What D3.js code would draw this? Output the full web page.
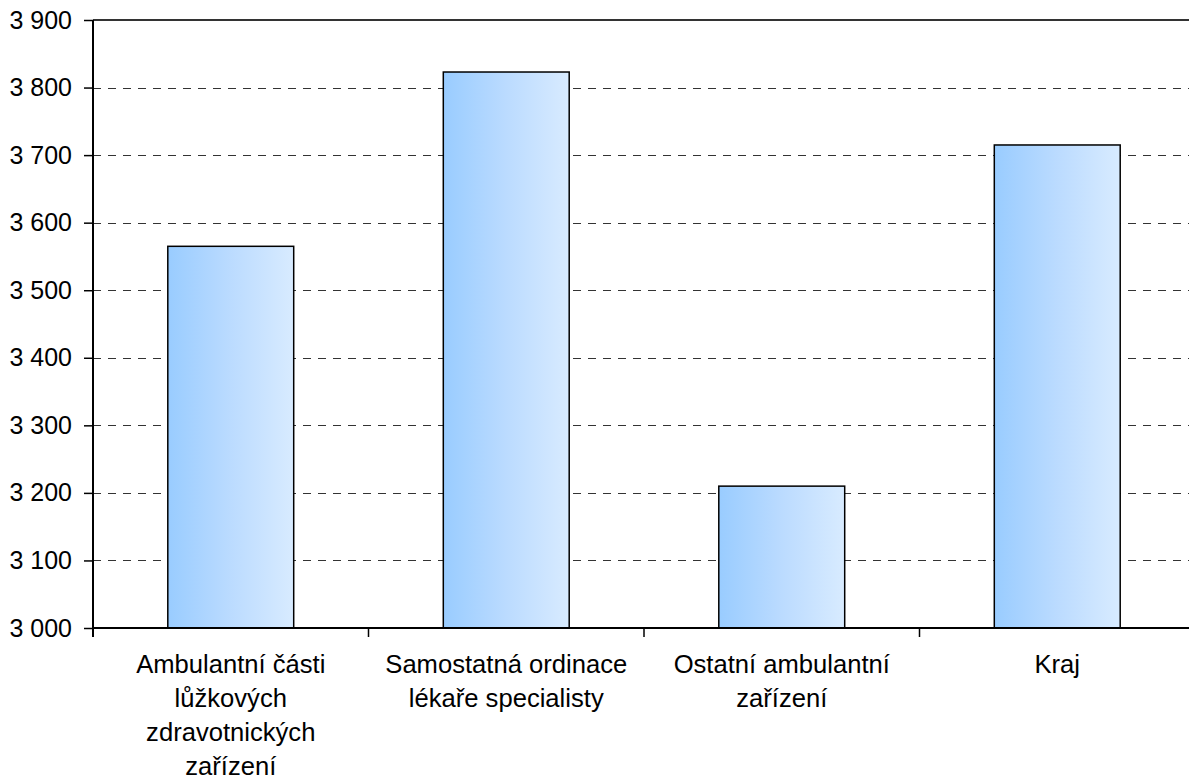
<!DOCTYPE html>
<html><head><meta charset="utf-8">
<script src="https://cdn.jsdelivr.net/npm/d3@7/dist/d3.min.js"></script>
<style>body{margin:0;background:#fff;} svg{display:block;font-family:"Liberation Sans",Arial,sans-serif;}</style>
</head><body>
<svg id="c" width="1189" height="781"></svg>
<script>
const categories = [
  ["Ambulantní části","lůžkových","zdravotnických","zařízení"],
  ["Samostatná ordinace","lékaře specialisty"],
  ["Ostatní ambulantní","zařízení"],
  ["Kraj"]
];
const values = [3565, 3823, 3210, 3715];
const yTicks = [3000,3100,3200,3300,3400,3500,3600,3700,3800,3900];

(function(){
const svg = d3.select("#c");
const pl = 93, pr = 1195, pt = 20, pb = 628;
const keys = categories.map((c,i)=>String(i));
const p = 0.543;
const x = d3.scaleBand().domain(keys).range([pl,pr]).paddingInner(p).paddingOuter(p/2);
const y = d3.scaleLinear().domain([3000,3900]).range([pb,pt]);
const fmt = d3.formatLocale({decimal:",",thousands:" ",grouping:[3],currency:["",""]}).format(",d");

const defs = svg.append("defs");
const g = defs.append("linearGradient").attr("id","bg").attr("x1","0").attr("x2","1").attr("y1","0").attr("y2","0");
g.append("stop").attr("offset","0").attr("stop-color","#99CCFF");
g.append("stop").attr("offset","0.5").attr("stop-color","#BBDBFF");
g.append("stop").attr("offset","1").attr("stop-color","#D8EBFF");

svg.append("g").selectAll("line").data(yTicks.filter(t=>t>3000 && t<3900)).join("line")
  .attr("x1",pl).attr("x2",pr).attr("y1",d=>Math.round(y(d))+0.5).attr("y2",d=>Math.round(y(d))+0.5)
  .attr("stroke","#333").attr("stroke-width",1).attr("stroke-dasharray","8,7");
svg.append("line").attr("x1",pl).attr("x2",pr).attr("y1",pt).attr("y2",pt)
  .attr("stroke","#333").attr("stroke-width",2);

svg.append("g").selectAll("rect").data(values).join("rect")
  .attr("x",(d,i)=>x(keys[i])).attr("width",x.bandwidth())
  .attr("y",d=>y(d)).attr("height",d=>y(3000)-y(d))
  .attr("fill","url(#bg)").attr("stroke","#000").attr("stroke-width",1.5);

const ya = svg.append("g").attr("transform",`translate(${pl},0)`)
  .call(d3.axisLeft(y).tickValues(yTicks).tickFormat(fmt).tickSize(9).tickPadding(12));
ya.select(".domain").remove();
ya.selectAll(".tick line").attr("stroke","#000").attr("stroke-width",1.5);
ya.selectAll(".tick text").attr("font-size",25).attr("fill","#000")
  .attr("font-family","'Liberation Sans',Arial,sans-serif");
svg.append("line").attr("x1",pl).attr("x2",pl).attr("y1",pt).attr("y2",pb+9)
  .attr("stroke","#000").attr("stroke-width",2);

svg.append("line").attr("x1",pl).attr("x2",pr).attr("y1",pb).attr("y2",pb)
  .attr("stroke","#000").attr("stroke-width",2);
const step = x.step();
svg.append("g").selectAll("line").data(d3.range(1,keys.length)).join("line")
  .attr("x1",i=>pl+i*step).attr("x2",i=>pl+i*step).attr("y1",pb).attr("y2",pb+9)
  .attr("stroke","#000").attr("stroke-width",1.5);

const lab = svg.append("g").selectAll("text").data(categories).join("text")
  .attr("text-anchor","middle").attr("font-size",25.6).attr("fill","#000")
  .attr("x",(d,i)=>x(keys[i])+x.bandwidth()/2).attr("y",673);
lab.selectAll("tspan").data(d=>d).join("tspan")
  .attr("x",function(){return this.parentNode.getAttribute("x");})
  .attr("dy",(d,j)=>j===0?0:34).text(d=>d);
})();
</script>
</body></html>
